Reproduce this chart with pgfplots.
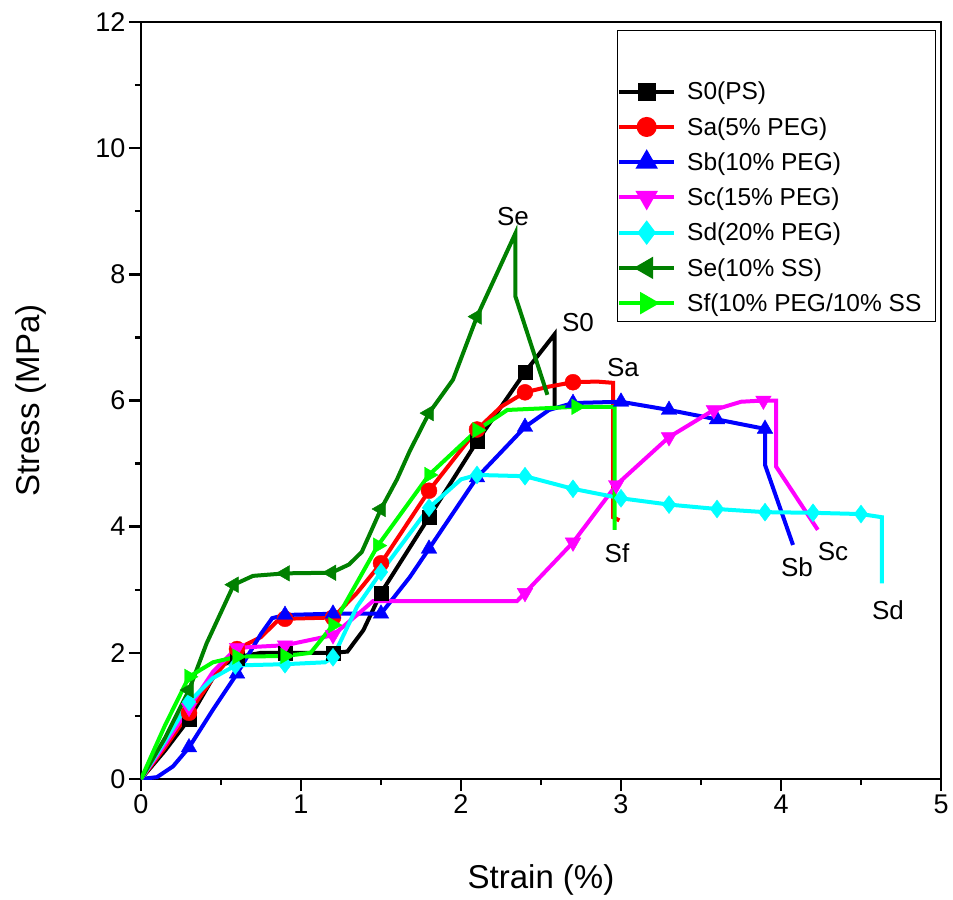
\documentclass[border=0pt]{standalone}
\usepackage{fontspec}
\setmainfont{Liberation Sans}
\usepackage{pgfplots}
\pgfplotsset{compat=1.18}
\definecolor{dkgreen}{RGB}{0,128,0}
\definecolor{ltgreen}{RGB}{0,255,0}
\definecolor{mymag}{RGB}{255,0,255}
\definecolor{mycyan}{RGB}{0,255,255}
\pgfplotsset{
  ln/.style={line width=4bp, no marks, forget plot},
  mk/.style={only marks, forget plot, mark options={solid}},
}
\begin{document}
\begin{tikzpicture}
\begin{axis}[name=ax, scale only axis, width=800bp, height=757bp,
  xmin=0, xmax=5, ymin=0, ymax=12,
  xtick={0,1,2,3,4,5}, ytick={0,2,4,6,8,10,12},
  minor x tick num=1, minor y tick num=1,
  tick align=outside, xtick pos=bottom, ytick pos=left,
  major tick length=12bp, minor tick length=6bp,
  every tick/.append style={black, line width=2.5bp},
  axis line style={line width=2.5bp},
  tick label style={font=\fontsize{27bp}{30bp}\selectfont},
  /pgf/number format/assume math mode=true,
  xlabel={Strain (\%)}, ylabel={Stress (MPa)},
  label style={font=\fontsize{33bp}{38bp}\selectfont},
  xlabel style={at={(axis description cs:0.5,-0.133)}, anchor=center},
  ylabel style={at={(axis description cs:-0.138,0.5)}, anchor=center},
  legend cell align=left,
  legend style={at={(0.99375,0.9894)}, anchor=north east, draw=black, line width=1.2bp,
    font=\fontsize{24.5bp}{29bp}\selectfont, inner xsep=0bp, inner ysep=7bp,
    row sep=12bp, /tikz/every odd column/.append style={column sep=9bp}},
  legend image code/.code={\draw[mark repeat=2,mark phase=2,#1] plot coordinates {(0bp,0bp) (27.5bp,0bp) (55bp,0bp)};},
]
\addlegendimage{empty legend}\addlegendentry{\rule{0pt}{25bp}}
\addlegendimage{black, line width=4bp, mark=square*, mark size=7bp, mark options={solid}}\addlegendentry{S0(PS)}
\addlegendimage{red, line width=4bp, mark=*, mark size=8bp, mark options={solid}}\addlegendentry{Sa(5\% PEG)}
\addlegendimage{blue, line width=4bp, mark=triangle*, mark size=9bp, mark options={solid}}\addlegendentry{Sb(10\% PEG)}
\addlegendimage{mymag, line width=4bp, mark=triangle*, mark size=9bp, mark options={solid, rotate=180}}\addlegendentry{Sc(15\% PEG)}
\addlegendimage{mycyan, line width=4bp, mark=diamond*, mark size=9bp, mark options={solid}}\addlegendentry{Sd(20\% PEG)}
\addlegendimage{dkgreen, line width=4bp, mark=triangle*, mark size=9bp, mark options={solid, rotate=90}}\addlegendentry{Se(10\% SS)}
\addlegendimage{ltgreen, line width=4bp, mark=triangle*, mark size=9bp, mark options={solid, rotate=-90}}\addlegendentry{Sf(10\% PEG/10\% SS\hspace*{12bp}}

% S0
\addplot[black, ln] coordinates {(0,0) (0.15,0.45) (0.3,0.95) (0.49,1.78) (0.62,1.94) (0.75,2.0) (0.9,2.0) (1.2,2.0) (1.29,2.02) (1.39,2.36) (1.5,2.95) (1.8,4.15) (2.1,5.35) (2.4,6.45) (2.585,7.05) (2.585,5.85)};
\addplot[black, mk, mark=square*, mark size=7bp] coordinates {(0.3,0.95) (0.6,1.92) (0.9,2.0) (1.2,2.0) (1.5,2.95) (1.8,4.15) (2.1,5.35) (2.4,6.45)};
% Sa
\addplot[red, ln] coordinates {(0,0) (0.15,0.5) (0.3,1.05) (0.45,1.6) (0.6,2.06) (0.75,2.25) (0.85,2.5) (0.9,2.54) (1.2,2.56) (1.35,2.95) (1.5,3.42) (1.8,4.57) (2.1,5.54) (2.25,5.9) (2.4,6.13) (2.55,6.22) (2.7,6.29) (2.85,6.3) (2.95,6.28) (2.95,4.15) (2.99,4.1)};
\addplot[red, mk, mark=*, mark size=8bp] coordinates {(0.3,1.05) (0.6,2.06) (0.9,2.54) (1.2,2.56) (1.5,3.42) (1.8,4.57) (2.1,5.54) (2.4,6.13) (2.7,6.29)};
% Sb
\addplot[blue, ln] coordinates {(0,0) (0.1,0.03) (0.2,0.2) (0.3,0.5) (0.45,1.1) (0.6,1.67) (0.75,2.3) (0.82,2.55) (0.9,2.6) (1.2,2.62) (1.5,2.62) (1.68,3.2) (1.8,3.65) (2.1,4.78) (2.4,5.58) (2.55,5.85) (2.7,5.96) (3.0,5.98) (3.3,5.85) (3.6,5.7) (3.9,5.55) (3.9,4.98) (4.075,3.71)};
\addplot[blue, mk, mark=triangle*, mark size=9bp] coordinates {(0.3,0.5) (0.6,1.67) (0.9,2.6) (1.2,2.62) (1.5,2.62) (1.8,3.65) (2.1,4.78) (2.4,5.58) (2.7,5.96) (3.0,5.98) (3.3,5.85) (3.6,5.7) (3.9,5.55)};
% Sc
\addplot[mymag, ln] coordinates {(0,0) (0.15,0.55) (0.3,1.13) (0.45,1.7) (0.6,2.08) (0.9,2.12) (1.2,2.28) (1.35,2.6) (1.45,2.82) (2.35,2.82) (2.4,2.95) (2.7,3.75) (2.97,4.66) (3.3,5.42) (3.58,5.85) (3.75,5.98) (3.89,6.0) (3.97,6.0) (3.97,4.95) (4.23,3.95)};
\addplot[mymag, mk, mark=triangle*, mark size=9bp, mark options={rotate=180}] coordinates {(0.3,1.13) (0.6,2.08) (0.9,2.12) (1.2,2.28) (2.4,2.95) (2.7,3.75) (2.97,4.66) (3.3,5.42) (3.58,5.85) (3.89,6.0)};
% Sd
\addplot[mycyan, ln] coordinates {(0,0) (0.15,0.6) (0.3,1.22) (0.45,1.6) (0.59,1.8) (0.9,1.82) (1.15,1.85) (1.2,1.93) (1.35,2.73) (1.5,3.28) (1.8,4.3) (2.0,4.75) (2.1,4.82) (2.4,4.8) (2.7,4.6) (3.0,4.45) (3.3,4.35) (3.6,4.28) (3.9,4.23) (4.2,4.22) (4.5,4.2) (4.63,4.15) (4.63,3.1)};
\addplot[mycyan, mk, mark=diamond*, mark size=9bp] coordinates {(0.3,1.22) (0.59,1.8) (0.9,1.82) (1.2,1.93) (1.5,3.28) (1.8,4.3) (2.1,4.82) (2.4,4.8) (2.7,4.6) (3.0,4.45) (3.3,4.35) (3.6,4.28) (3.9,4.23) (4.2,4.22) (4.5,4.2)};
% Se
\addplot[dkgreen, ln] coordinates {(0,0) (0.15,0.65) (0.3,1.41) (0.41,2.15) (0.58,3.08) (0.7,3.22) (0.9,3.26) (1.19,3.27) (1.3,3.4) (1.38,3.6) (1.5,4.28) (1.6,4.75) (1.68,5.2) (1.8,5.8) (1.95,6.33) (2.1,7.33) (2.34,8.65) (2.34,7.65) (2.54,6.09)};
\addplot[dkgreen, mk, mark=triangle*, mark size=9bp, mark options={rotate=90}] coordinates {(0.3,1.41) (0.58,3.08) (0.9,3.26) (1.19,3.27) (1.5,4.28) (1.8,5.8) (2.1,7.33)};
% Sf
\addplot[ltgreen, ln] coordinates {(0,0) (0.15,0.85) (0.3,1.62) (0.45,1.85) (0.6,1.94) (0.9,1.95) (1.06,2.0) (1.2,2.44) (1.48,3.7) (1.8,4.82) (2.1,5.53) (2.29,5.85) (2.72,5.9) (2.96,5.9) (2.96,3.95)};
\addplot[ltgreen, mk, mark=triangle*, mark size=9bp, mark options={rotate=-90}] coordinates {(0.3,1.62) (0.6,1.94) (0.9,1.95) (1.2,2.44) (1.48,3.7) (1.8,4.82) (2.1,5.53) (2.72,5.9)};

\begin{scope}[every node/.style={font=\fontsize{26bp}{30bp}\selectfont}]
\node at (axis cs:2.325,8.91) {Se};
\node at (axis cs:2.731,7.23) {S0};
\node at (axis cs:3.0125,6.52) {Sa};
\node at (axis cs:2.975,3.58) {Sf};
\node at (axis cs:4.1,3.36) {Sb};
\node at (axis cs:4.325,3.6) {Sc};
\node at (axis cs:4.669,2.68) {Sd};
\end{scope}
\end{axis}
\path (ax.south west) ++(-141bp,-120bp);
\path (ax.north east) ++(12bp,22bp);
\end{tikzpicture}
\end{document}
